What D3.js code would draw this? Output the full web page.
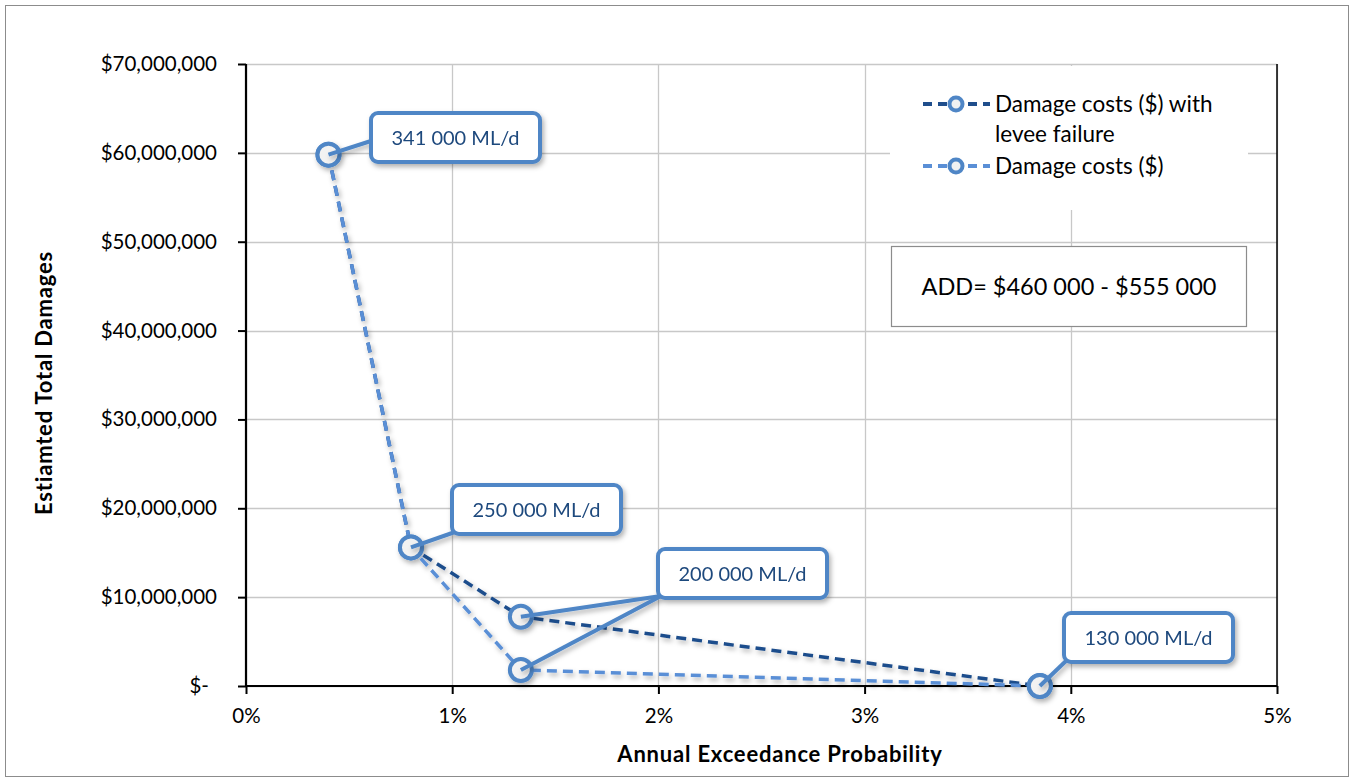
<!DOCTYPE html>
<html><head><meta charset="utf-8">
<script src="https://cdn.jsdelivr.net/npm/d3@7"></script>
<style>body{margin:0;background:#fff}svg{display:block}</style>
</head><body>
<svg id="c" width="1357" height="782"></svg>
<script>
// ---- data ----
const aep = [0.004, 0.008, 0.01333, 0.0385];
const damagesLevee = [59800000, 15600000, 7800000, 0];
const damages = [59800000, 15600000, 1800000, 0];
const seriesNames = ["Damage costs ($) with levee failure", "Damage costs ($)"];
const flowLabels = ["341 000 ML/d", "250 000 ML/d", "200 000 ML/d", "130 000 ML/d"];
const yTicks = [0, 10000000, 20000000, 30000000, 40000000, 50000000, 60000000, 70000000];
const xTicks = [0, 0.01, 0.02, 0.03, 0.04, 0.05];
const addText = "ADD= $460 000 - $555 000";
const yTitle = "Estiamted Total Damages";
const xTitle = "Annual Exceedance Probability";

const font = "Lato, 'Open Sans', sans-serif";
const svg = d3.select("#c");
const L = 246, R = 1277, T = 64, B = 686;
const x = d3.scaleLinear().domain([0, 0.05]).range([L, R]);
const y = d3.scaleLinear().domain([0, 70000000]).range([B, T]);

const defs = svg.append("defs");
const f = defs.append("filter").attr("id","sh").attr("x","-20%").attr("y","-20%").attr("width","150%").attr("height","150%");
f.append("feDropShadow").attr("dx",2).attr("dy",3).attr("stdDeviation",2.5).attr("flood-color","#000").attr("flood-opacity",0.3);

// outer border
svg.append("rect").attr("x",5.5).attr("y",5.5).attr("width",1343).attr("height",771)
  .attr("fill","#fff").attr("stroke","#8c8c8c").attr("stroke-width",1);

// gridlines
const g = svg.append("g");
g.selectAll("line.h").data(yTicks).join("line")
  .attr("x1",L).attr("x2",R).attr("y1",d=>Math.round(y(d))+0.5).attr("y2",d=>Math.round(y(d))+0.5)
  .attr("stroke","#c8c8c8").attr("stroke-width",1.3);
g.selectAll("line.v").data(xTicks).join("line")
  .attr("y1",T).attr("y2",B).attr("x1",d=>Math.round(x(d))+0.5).attr("x2",d=>Math.round(x(d))+0.5)
  .attr("stroke","#c8c8c8").attr("stroke-width",1.3);

// axes
const yAxis = d3.axisLeft(y).tickValues(yTicks).tickSize(8).tickPadding(21)
  .tickFormat(d => d === 0 ? "$-" : d3.format("$,")(d));
const ya = svg.append("g").attr("transform",`translate(${L},0)`).call(yAxis);
const xAxis = d3.axisBottom(x).tickValues(xTicks).tickSize(8).tickPadding(14)
  .tickFormat(d3.format(".0%"));
const xa = svg.append("g").attr("transform",`translate(0,${B})`).call(xAxis);
[ya, xa].forEach(a => {
  a.select(".domain").attr("stroke","#000").attr("stroke-width",2.2);
  a.selectAll(".tick line").attr("stroke","#000").attr("stroke-width",2);
  a.selectAll(".tick text").attr("font-family",font).attr("font-size",20.5).attr("fill","#000");
});
ya.selectAll(".tick text").filter(d=>d===0).attr("dx",-8);
ya.select(".domain").attr("d",`M0,${T}V${B}`);
xa.select(".domain").attr("d",`M${L},0H${R}`);
// right frame
svg.append("line").attr("x1",R).attr("x2",R).attr("y1",T).attr("y2",B).attr("stroke","#000").attr("stroke-width",1.5);

// legend background
svg.append("rect").attr("x",890).attr("y",66).attr("width",358).attr("height",144).attr("fill","#fff");
// ADD box
svg.append("rect").attr("x",891.5).attr("y",246.5).attr("width",355).attr("height",80)
  .attr("fill","#fff").attr("stroke","#8c8c8c").attr("stroke-width",1.2);
svg.append("text").attr("x",1069).attr("y",295).attr("text-anchor","middle")
  .attr("font-family",font).attr("font-size",23.5).attr("fill","#000").text(addText);

// series
const darkC = "#1f4e8c", lightC = "#5a8fd6", markC = "#4f86c6";
const line = d3.line().x(d=>x(d[0])).y(d=>y(d[1]));
const sData = [
  {vals: aep.map((a,i)=>[a,damagesLevee[i]]), color: darkC},
  {vals: aep.map((a,i)=>[a,damages[i]]), color: lightC}
];
const sg = svg.append("g").attr("filter","url(#sh)");
sData.forEach(s=>{
  sg.append("path").attr("d",line(s.vals)).attr("fill","none").attr("stroke",s.color)
    .attr("stroke-width",3.5).attr("stroke-dasharray","10,6");
});

// callouts: leader lines
const boxes = [
  {i:0, bx:371, by:113, pts:[[0, damages]]},
  {i:1, bx:452, by:485, pts:[[1, damages]]},
  {i:2, bx:658, by:549, pts:[[2, damagesLevee],[2, damages]]},
  {i:3, bx:1064, by:613, pts:[[3, damages]]}
];
const bw = 169, bh = 49;
const cg = svg.append("g").attr("filter","url(#sh)");
boxes.forEach(b=>{
  b.pts.forEach(([k,arr])=>{
    cg.append("line").attr("x1",x(aep[k])).attr("y1",y(arr[k]))
      .attr("x2",b.bx+3).attr("y2",b.by+bh-(b.i===0?22:2))
      .attr("stroke",markC).attr("stroke-width",4);
  });
});
// markers
sData.forEach(s=>{
  sg.selectAll(null).data(s.vals).join("circle")
    .attr("cx",d=>x(d[0])).attr("cy",d=>y(d[1])).attr("r",11)
    .attr("fill","#f2f2f2").attr("stroke",markC).attr("stroke-width",4);
});
// callout boxes
boxes.forEach(b=>{
  cg.append("rect").attr("x",b.bx).attr("y",b.by).attr("width",bw).attr("height",bh).attr("rx",7)
    .attr("fill","#fff").attr("stroke",markC).attr("stroke-width",4);
  cg.append("text").attr("x",b.bx+bw/2).attr("y",b.by+bh/2+7).attr("text-anchor","middle")
    .attr("font-family",font).attr("font-size",20).attr("fill","#1f497d").text(flowLabels[b.i]);
});

// legend
const leg = [{y:104, color:darkC, lines:["Damage costs ($) with","levee failure"]},
             {y:166, color:lightC, lines:["Damage costs ($)"]}];
leg.forEach(l=>{
  const cy = l.y;
  svg.append("line").attr("x1",923).attr("x2",990).attr("y1",cy).attr("y2",cy)
    .attr("stroke",l.color).attr("stroke-width",4).attr("stroke-dasharray","9,6");
  svg.append("circle").attr("cx",956).attr("cy",cy).attr("r",6.5).attr("fill","#f2f2f2")
    .attr("stroke",markC).attr("stroke-width",4);
  l.lines.forEach((t,j)=>{
    svg.append("text").attr("x",995).attr("y",l.y+8+j*30).attr("font-family",font)
      .attr("font-size",22.5).attr("fill","#000").text(t);
  });
});

// axis titles
svg.append("text").attr("transform",`translate(52,383) rotate(-90)`).attr("text-anchor","middle")
  .attr("font-family",font).attr("font-size",22).attr("letter-spacing",0.8).attr("font-weight","bold").text(yTitle);
svg.append("text").attr("x",780).attr("y",762).attr("text-anchor","middle")
  .attr("font-family",font).attr("font-size",22).attr("letter-spacing",0.8).attr("font-weight","bold").text(xTitle);
</script>
</body></html>
